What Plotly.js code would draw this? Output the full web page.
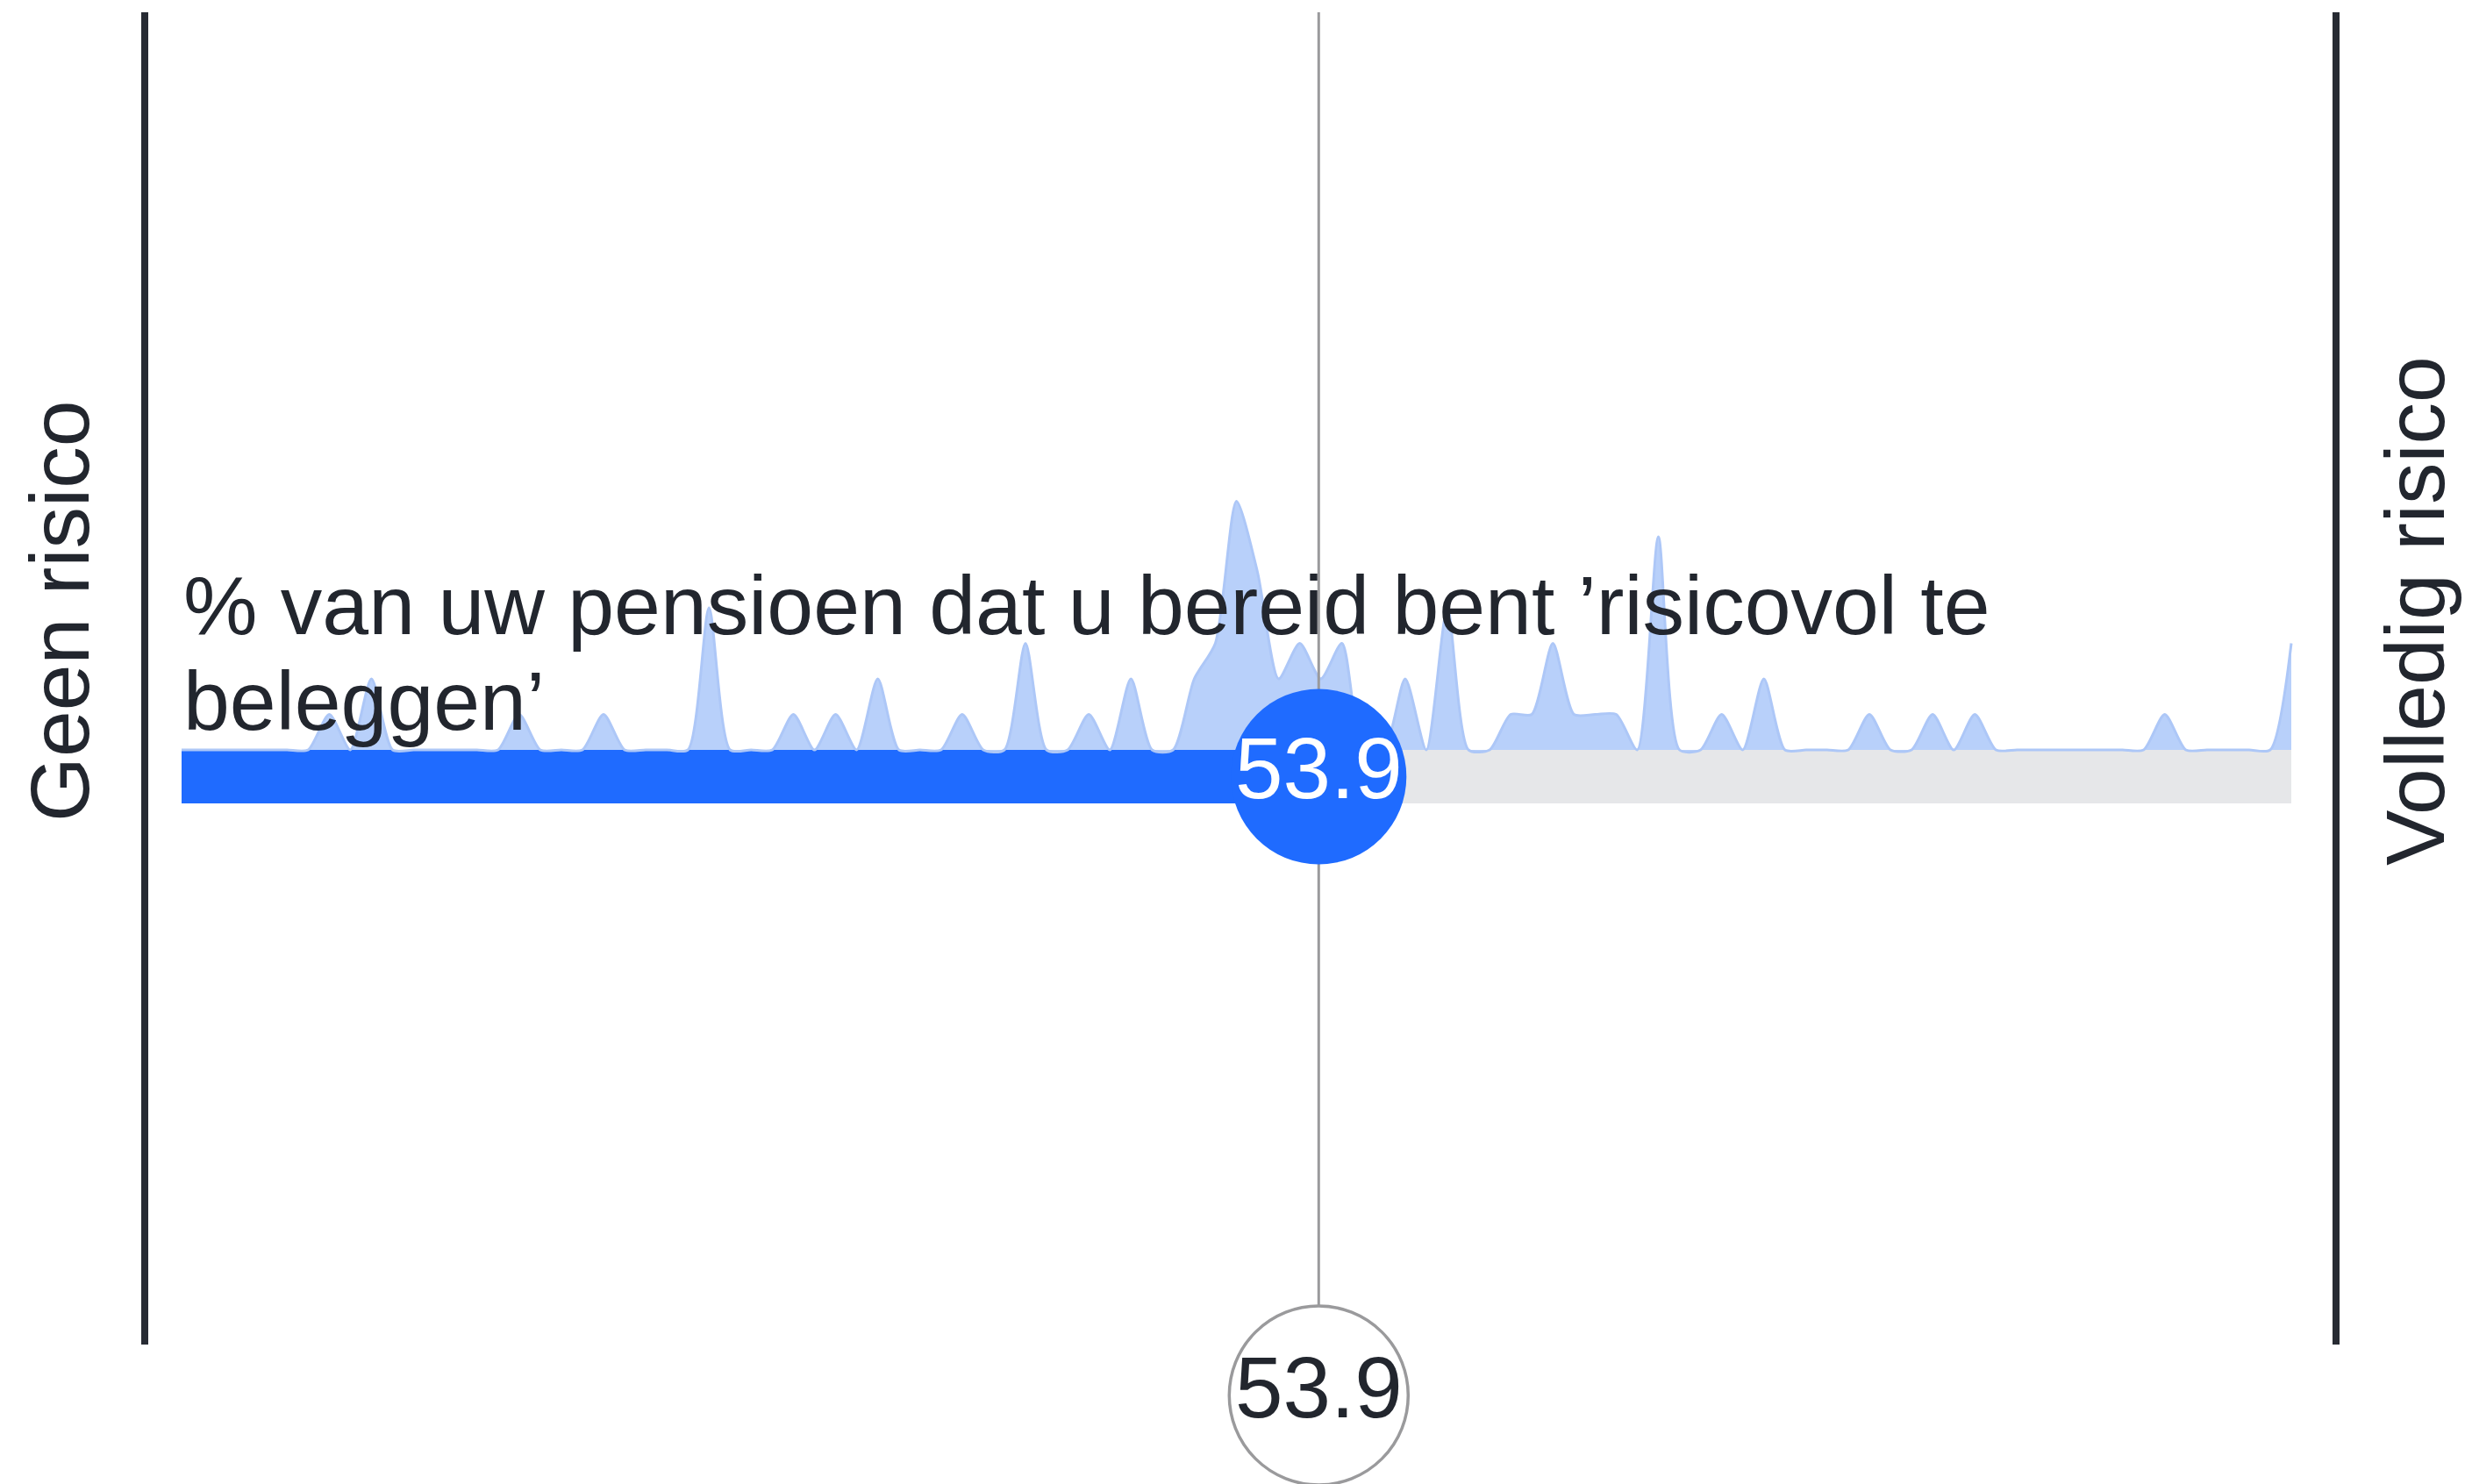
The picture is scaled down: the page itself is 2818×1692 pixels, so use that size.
<!DOCTYPE html>
<html>
<head>
<meta charset="utf-8">
<script src="https://cdn.plot.ly/plotly-3.0.1.min.js"></script>
<style>
  html, body { margin: 0; padding: 0; background: #ffffff; }
  #chart { width: 2818px; height: 1692px; }
</style>
</head>
<body>
<div id="chart"></div>
<script>
// ---- data ----
const SCALE_MIN = 0;
const SCALE_MAX = 100;
const AVERAGE = 53.9;
const AVERAGE_LABEL = "53.9";
const TITLE_LINES = ["% van uw pensioen dat u bereid bent ’risicovol te", "beleggen’"];
const LEFT_LABEL = "Geen risico";
const RIGHT_LABEL = "Volledig risico";
// answers given (percentage) and how many respondents gave each answer
const ANSWER_VALUES = [7, 9, 16, 20, 25, 29, 31, 33, 37, 40, 43, 45, 48, 49, 50, 51, 52, 53, 54, 55, 58, 60, 63, 64, 65, 66, 67, 68, 70, 73, 75, 80, 83, 85, 94, 100];
const ANSWER_COUNTS = [1, 2, 1, 1, 4, 1, 1, 2, 1, 3, 1, 2, 2, 3, 7, 5, 2, 3, 2, 3, 2, 4, 1, 1, 3, 1, 1, 1, 6, 1, 2, 1, 1, 1, 1, 3];

// ---- distribution over every answer 0..100 (answers nobody gave count 0) ----
const distX = [], distY = [];
for (let v = SCALE_MIN; v <= SCALE_MAX; v++) {
  distX.push(v);
  const i = ANSWER_VALUES.indexOf(v);
  distY.push(i >= 0 ? ANSWER_COUNTS[i] : 0);
}

// ---- layout geometry (pixels) ----
const W = 2818, H = 1692;
const PX_LEFT = 207, PX_RIGHT = 2612;      // where 0 and 100 fall
const PX_BASE = 855;                        // top of the bar / base of the distribution
const PX_PER_COUNT = 40.5;
const pxPerUnit = (PX_RIGHT - PX_LEFT) / (SCALE_MAX - SCALE_MIN);
const xRange = [SCALE_MIN - PX_LEFT / pxPerUnit, SCALE_MAX + (W - PX_RIGHT) / pxPerUnit];
const yRange = [-(H - PX_BASE) / PX_PER_COUNT, PX_BASE / PX_PER_COUNT];
const yFromPx = px => (PX_BASE - px) / PX_PER_COUNT;
const BAR_H = 61 / PX_PER_COUNT;

const FONT = '"Liberation Sans", Arial, sans-serif';
const DARK = '#22262e';
const BLUE = '#1f6bff';

const traces = [
  { // full scale, grey
    type: 'bar', orientation: 'h', x: [SCALE_MAX - SCALE_MIN], base: SCALE_MIN,
    y: [-BAR_H / 2], width: BAR_H, marker: { color: '#e6e7e9' }, hoverinfo: 'skip'
  },
  { // average, blue
    type: 'bar', orientation: 'h', x: [AVERAGE - SCALE_MIN], base: SCALE_MIN,
    y: [-BAR_H / 2], width: BAR_H, marker: { color: BLUE }, hoverinfo: 'skip'
  },
  { // distribution of answers
    type: 'scatter', mode: 'lines', x: distX, y: distY,
    line: { shape: 'spline', smoothing: 0.7, color: '#adc7f7', width: 3 },
    fill: 'tozeroy', fillcolor: '#b8d0fa', hoverinfo: 'skip'
  },
  { // vertical average line
    type: 'scatter', mode: 'lines', x: [AVERAGE, AVERAGE], y: [yFromPx(14), yFromPx(1591)],
    line: { color: '#9a9a9c', width: 3 }, hoverinfo: 'skip'
  },
  { // blue knob on the bar
    type: 'scatter', mode: 'markers+text', x: [AVERAGE], y: [-BAR_H / 2],
    marker: { size: 200, color: BLUE, line: { width: 0 } },
    text: [AVERAGE_LABEL], textposition: 'middle center',
    textfont: { family: FONT, size: 98, color: '#ffffff' }, hoverinfo: 'skip', cliponaxis: false
  },
  { // bottom badge
    type: 'scatter', mode: 'markers+text', x: [AVERAGE], y: [yFromPx(1591)],
    marker: { size: 204, color: '#ffffff', line: { width: 3.5, color: '#9a9a9c' } },
    text: [AVERAGE_LABEL], textposition: 'middle center',
    textfont: { family: FONT, size: 98, color: DARK }, hoverinfo: 'skip', cliponaxis: false
  }
];

const frameLine = xPx => ({
  type: 'line', xref: 'paper', yref: 'paper',
  x0: xPx / W, x1: xPx / W, y0: 1 - 14 / H, y1: 1 - 1533 / H,
  line: { color: '#272b33', width: 8 }, layer: 'below'
});

const layout = {
  width: W, height: H,
  margin: { l: 0, r: 0, t: 0, b: 0, pad: 0 },
  paper_bgcolor: '#ffffff', plot_bgcolor: '#ffffff',
  showlegend: false, barmode: 'overlay', bargap: 0,
  xaxis: { range: xRange, visible: false, fixedrange: true },
  yaxis: { range: yRange, visible: false, fixedrange: true },
  shapes: [frameLine(165), frameLine(2663)],
  annotations: [
    { xref: 'paper', yref: 'paper', x: 207 / W, y: 1 - 690 / H, xanchor: 'left', yanchor: 'middle',
      text: TITLE_LINES[0], showarrow: false, font: { family: FONT, size: 95, color: DARK } },
    { xref: 'paper', yref: 'paper', x: 207 / W, y: 1 - 799 / H, xanchor: 'left', yanchor: 'middle',
      text: TITLE_LINES[1], showarrow: false, font: { family: FONT, size: 95, color: DARK } },
    { xref: 'paper', yref: 'paper', x: 68 / W, y: 1 - 697 / H, xanchor: 'center', yanchor: 'middle',
      text: LEFT_LABEL, textangle: -90, showarrow: false, font: { family: FONT, size: 95, color: DARK } },
    { xref: 'paper', yref: 'paper', x: 2753 / W, y: 1 - 697 / H, xanchor: 'center', yanchor: 'middle',
      text: RIGHT_LABEL, textangle: -90, showarrow: false, font: { family: FONT, size: 95, color: DARK } }
  ]
};

Plotly.newPlot('chart', traces, layout, { staticPlot: true, displayModeBar: false });
</script>
</body>
</html>
